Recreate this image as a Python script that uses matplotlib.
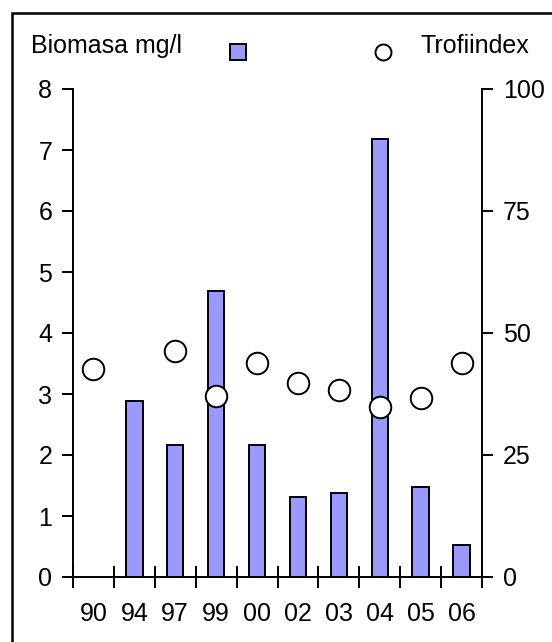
import numpy as np
import matplotlib
matplotlib.use("Agg")
import matplotlib.pyplot as plt
from matplotlib.lines import Line2D
from matplotlib.patches import Rectangle

# data
years = ["90", "94", "97", "99", "00", "02", "03", "04", "05", "06"]
biomasa = [np.nan, 2.89, 2.16, 4.69, 2.16, 1.31, 1.38, 7.18, 1.48, 0.52]
trofiindex = [42.6, np.nan, 46.3, 37.1, 43.9, 39.8, 38.3, 34.8, 36.7, 43.9]

plt.rcParams["font.family"] = ["Liberation Sans", "DejaVu Sans"]
plt.rcParams["font.size"] = 18

fig = plt.figure(figsize=(5.52, 6.42), dpi=100)
ax = fig.add_axes([73 / 552, 65 / 642, 409 / 552, 488 / 642])
ax2 = ax.twinx()

x = np.arange(len(years))
ax.bar(x, biomasa, width=0.4, color="#9999ff", edgecolor="black", linewidth=1.4, zorder=2)
ax2.plot(x, trofiindex, "o", markersize=15.5, markerfacecolor="white",
         markeredgecolor="black", markeredgewidth=1.4, zorder=3)
ax.set_zorder(1)
ax.patch.set_visible(False)
ax2.set_zorder(2)

ax.set_xlim(-0.5, len(years) - 0.5)
ax.set_ylim(0, 8)
ax2.set_ylim(0, 100)
ax.set_yticks(range(0, 9))
ax2.set_yticks([0, 25, 50, 75, 100])

for a in (ax, ax2):
    a.spines["top"].set_visible(False)
    for s in a.spines.values():
        s.set_linewidth(1.4)
ax.spines["right"].set_visible(False)
ax2.spines["left"].set_visible(False)
ax2.spines["bottom"].set_visible(False)

ax.tick_params(axis="y", direction="out", length=8, width=1.4, pad=7)
ax2.tick_params(axis="y", direction="out", length=8, width=1.4, pad=7)

ax.set_xticks(x)
ax.set_xticklabels(years)
ax.set_xticks(np.arange(-0.5, len(years)), minor=True)
ax.tick_params(axis="x", which="major", length=0, pad=18)
ax.tick_params(axis="x", which="minor", direction="inout", length=16, width=1.4)

# legend row at the top
fig.text(31 / 552, 1 - 46 / 642, "Biomasa mg/l", ha="left", va="center")
fig.add_artist(Line2D([238 / 552], [1 - 52 / 642], marker="s", markersize=11.5,
                      markerfacecolor="#9999ff", markeredgecolor="black",
                      markeredgewidth=1.4, transform=fig.transFigure))
fig.add_artist(Line2D([383 / 552], [1 - 52 / 642], marker="o", markersize=11.5,
                      markerfacecolor="white", markeredgecolor="black",
                      markeredgewidth=1.4, transform=fig.transFigure))
fig.text(421 / 552, 1 - 46 / 642, "Trofiindex", ha="left", va="center")

# outer frame, cut by the image edge
fig.add_artist(Rectangle((12 / 552, -0.1), 1.2, 1.1 - 13 / 642, fill=False,
                         edgecolor="black", linewidth=1.8, transform=fig.transFigure))

fig.savefig("out.png", dpi=100)
